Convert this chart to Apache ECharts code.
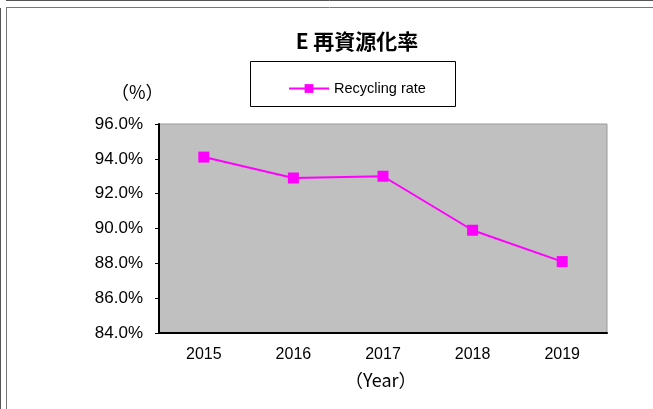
<!DOCTYPE html>
<html>
<head>
<meta charset="utf-8">
<script src="https://cdn.jsdelivr.net/npm/echarts@6/dist/echarts.min.js"></script>
<style>
html,body{margin:0;padding:0;background:#fff;}
#c{width:653px;height:409px;}
</style>
</head>
<body>
<div id="c"></div>
<script>
const titleText = 'E 再資源化率';
const seriesName = 'Recycling rate';
const years = ['2015', '2016', '2017', '2018', '2019'];
const recyclingRate = [94.1, 92.9, 93.0, 89.9, 88.1];
const yMin = 84, yMax = 96, yStep = 2;
const yUnit = '（%）';
const xUnit = '（Year）';

const latin = '"Liberation Sans", Arial, sans-serif';
const cjk = '"Noto Sans CJK JP", "Noto Sans CJK SC", sans-serif';

const chart = echarts.init(document.getElementById('c'), null, {renderer: 'canvas'});
chart.setOption({
  animation: false,
  backgroundColor: '#fff',
  title: {
    text: titleText,
    left: 352, top: 26, textAlign: 'center',
    textStyle: {fontFamily: cjk, fontSize: 21, fontWeight: 'bold', color: '#000'}
  },
  legend: {
    data: [seriesName],
    left: 283, top: 76,
    itemWidth: 40, itemHeight: 11, itemGap: 4,
    textStyle: {fontFamily: latin, fontSize: 14.5, color: '#000'}
  },
  grid: {
    left: 159, top: 124, width: 448, height: 209,
    show: true, backgroundColor: '#c0c0c0', borderColor: '#9a9a9a', borderWidth: 1
  },
  xAxis: {
    type: 'category', data: years, boundaryGap: true,
    axisLine: {lineStyle: {color: '#000', width: 2}},
    axisTick: {inside: true, length: 4, lineStyle: {color: '#000'}},
    axisLabel: {margin: 14, fontFamily: latin, fontSize: 16, color: '#000'}
  },
  yAxis: {
    type: 'value', min: yMin, max: yMax, interval: yStep,
    axisLine: {show: true, lineStyle: {color: '#000', width: 2}},
    axisTick: {show: true, length: 4, lineStyle: {color: '#000'}},
    splitLine: {show: false},
    axisLabel: {margin: 16, fontFamily: latin, fontSize: 17, color: '#000',
      formatter: v => v.toFixed(1) + '%'}
  },
  series: [{
    name: seriesName, type: 'line', data: recyclingRate,
    symbol: 'rect', symbolSize: 11,
    itemStyle: {color: '#ff00ff'},
    lineStyle: {color: '#ff00ff', width: 2}
  }],
  graphic: [
    {type: 'line', shape: {x1: 6, y1: 0.5, x2: 653, y2: 0.5}, style: {stroke: '#555', lineWidth: 1}, silent: true},
    {type: 'line', shape: {x1: 0.5, y1: 8, x2: 0.5, y2: 409}, style: {stroke: '#555', lineWidth: 1}, silent: true},
    {type: 'line', shape: {x1: 6, y1: 7.5, x2: 653, y2: 7.5}, style: {stroke: '#777', lineWidth: 1}, silent: true},
    {type: 'line', shape: {x1: 6.5, y1: 7, x2: 6.5, y2: 409}, style: {stroke: '#777', lineWidth: 1}, silent: true},
    {type: 'rect', shape: {x: 250.5, y: 61.5, width: 205, height: 45}, style: {fill: 'none', stroke: '#000', lineWidth: 1}, silent: true, z: -1},
    {type: 'text', left: 111, top: 83, style: {text: yUnit, fontFamily: cjk, fontSize: 18, fill: '#000'}},
    {type: 'text', left: 345, top: 371, style: {text: xUnit, fontFamily: cjk, fontSize: 18, fill: '#000'}}
  ]
});
</script>
</body>
</html>
